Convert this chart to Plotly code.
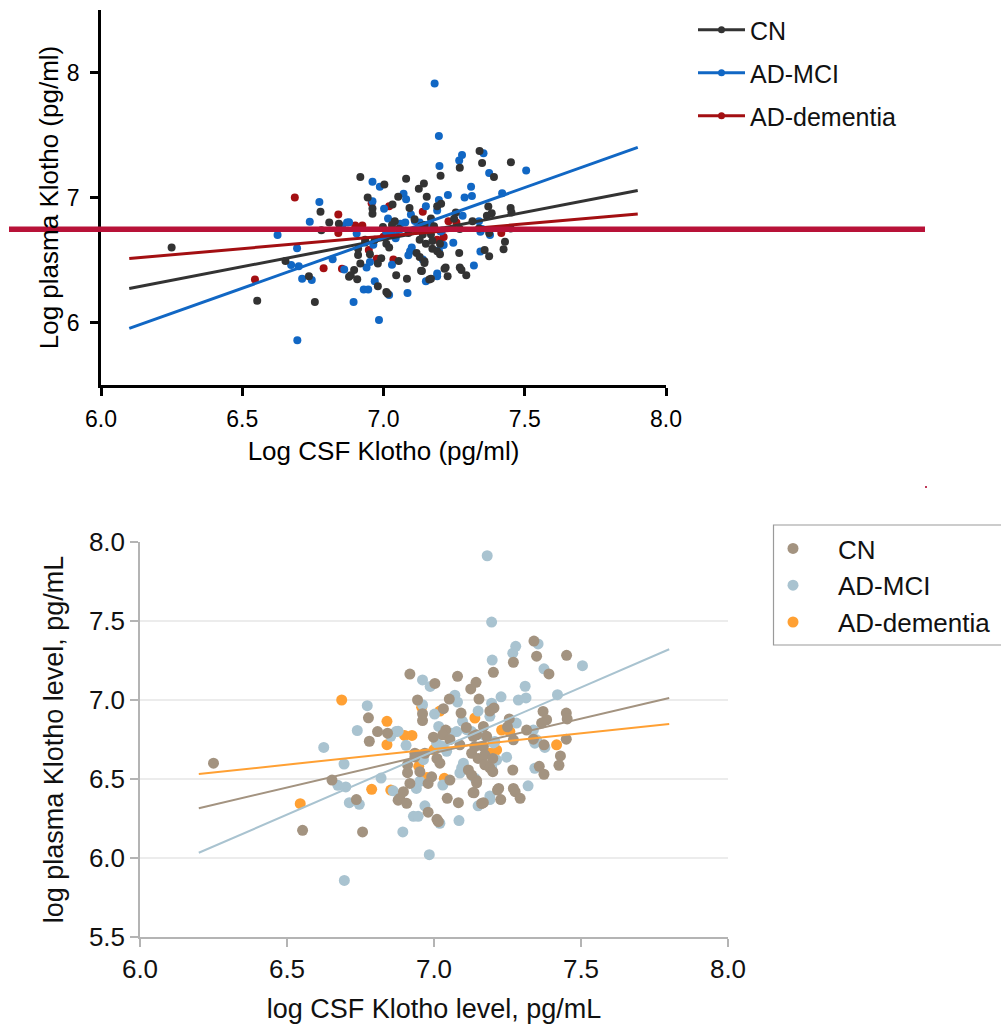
import plotly.graph_objects as go

# ---------------- data ----------------
groups = ["CN", "AD-MCI", "AD-dementia"]

cn_x = [6.25, 6.553, 6.653, 6.736, 6.757, 6.777, 6.78, 6.808, 6.842, 6.878,
        6.918, 7.003, 7.08, 7.125, 7.143, 7.153, 7.19, 7.204, 6.944, 6.961,
        6.961, 7.032, 7.052, 7.092, 6.935, 6.935, 6.969, 6.91, 6.91, 6.952,
        6.992, 6.918, 6.98, 6.896, 6.884, 6.907, 6.98, 7.01, 7.015, 7.045,
        7.083, 7.133, 6.998, 7.04, 7.03, 7.054, 7.11, 7.088, 7.133, 7.139,
        7.128, 7.01, 7.02, 7.054, 7.117, 7.15, 7.168, 7.145, 7.179, 7.168,
        7.173, 7.2, 7.173, 7.19, 7.145, 7.128, 7.2, 7.22, 7.27, 7.145,
        7.136, 7.162, 7.168, 7.216, 7.227, 7.276, 7.293, 7.34, 7.349, 7.27,
        7.202, 7.391, 7.256, 7.25, 7.371, 7.383, 7.366, 7.45, 7.453, 7.315,
        7.338, 7.27, 7.374, 7.45, 7.43, 7.425, 7.358, 7.374, 7.268, 7.451]
cn_y = [6.60, 6.175, 6.493, 6.37, 6.165, 6.887, 6.739, 6.80, 6.79, 6.366,
        7.164, 7.105, 7.15, 7.07, 7.112, 7.006, 6.93, 6.95, 7.0, 6.913,
        6.87, 6.945, 7.006, 6.917, 6.663, 6.64, 6.663, 6.59, 6.54, 6.546,
        6.514, 6.472, 6.472, 6.42, 6.378, 6.346, 6.29, 6.245, 6.23, 6.378,
        6.35, 6.414, 6.765, 6.81, 6.78, 6.75, 6.826, 6.716, 6.77, 6.705,
        6.663, 6.63, 6.60, 6.493, 6.557, 6.63, 6.833, 6.78, 6.77, 6.705,
        6.653, 6.63, 6.59, 6.57, 6.49, 6.525, 6.546, 6.44, 6.44, 6.476,
        6.413, 6.345, 6.35, 6.43, 6.37, 6.42, 6.378, 7.373, 7.277, 7.239,
        7.175, 7.165, 6.88, 6.83, 6.928, 6.875, 6.854, 6.917, 6.88, 6.81,
        6.752, 6.748, 6.716, 6.752, 6.646, 6.587, 6.58, 6.53, 6.557, 7.283]

mci_x = [6.625, 6.694, 6.773, 6.739, 6.673, 6.70, 6.712, 6.746, 6.695, 6.82,
         6.861, 6.871, 6.853, 6.878, 6.905, 6.894, 6.93, 6.946, 6.969, 6.984,
         7.02, 7.085, 6.94, 7.03, 6.961, 6.987, 6.961, 7.002, 7.016, 7.071,
         7.08, 7.097, 7.077, 7.009, 7.028, 7.043, 6.964, 7.094, 7.10, 7.088,
         6.952, 7.06, 7.111, 7.128, 7.168, 7.15, 7.19, 7.196, 7.228, 7.181,
         7.196, 7.198, 7.268, 7.278, 7.354, 7.374, 7.505, 7.31, 7.287, 7.313,
         7.42, 7.28, 7.338, 7.349, 7.343, 7.377, 7.207, 7.247, 7.196, 7.343,
         7.139, 7.32, 7.19, 7.19, 7.15, 7.202, 7.213]
mci_y = [6.70, 6.595, 6.964, 6.807, 6.46, 6.45, 6.35, 6.34, 5.858, 6.506,
         6.425, 6.80, 6.77, 6.803, 6.713, 6.165, 6.264, 6.264, 6.33, 6.021,
         6.22, 6.237, 6.44, 6.462, 7.127, 7.086, 6.97, 6.911, 6.833, 7.03,
         6.987, 6.865, 6.80, 6.728, 6.707, 6.675, 6.622, 6.57, 6.60, 6.538,
         6.485, 6.79, 6.812, 6.80, 6.781, 6.93, 6.897, 6.98, 7.02, 7.913,
         7.493, 7.253, 7.296, 7.34, 7.355, 7.197, 7.217, 7.087, 7.0, 7.013,
         7.034, 6.854, 6.81, 6.748, 6.727, 6.70, 6.737, 6.638, 6.578, 6.568,
         6.504, 6.457, 6.392, 6.37, 6.33, 6.728, 6.62]

dem_x = [6.545, 6.686, 6.788, 6.84, 6.84, 6.853, 6.90, 6.925, 6.948, 6.958,
         6.976, 7.0, 7.02, 7.035, 7.139, 7.23, 7.258, 7.213, 7.19, 7.205, 7.417]
dem_y = [6.344, 7.0, 6.435, 6.865, 6.717, 6.43, 6.776, 6.776, 6.58, 6.954,
         6.51, 6.686, 6.93, 6.504, 6.886, 6.81, 6.80, 6.684, 6.663, 6.633, 6.716]

# regression lines (slope, intercept) per group, and their x extents
fit_slopes = [0.436, 0.805, 0.198]
fit_intercepts = [3.612, 1.042, 5.304]
fit_x_top = [6.1, 7.9]
fit_x_bottom = [6.2, 7.8]

# horizontal marker line across the upper chart
red_line_y = 6.746

# tick values
x_ticks = [6.0, 6.5, 7.0, 7.5, 8.0]
y_ticks_top = [6, 7, 8]
y_ticks_bottom = [5.5, 6.0, 6.5, 7.0, 7.5, 8.0]
grid_bottom = [6.0, 6.5, 7.0, 7.5]

# ---------------- styling ----------------
W, H = 1001, 1029
FONT = "Liberation Sans, Arial, sans-serif"
top_colors = ["#333333", "#1167C4", "#A30F12"]
bot_colors = ["#A39380", "#A9C3D0", "#FFA033"]
xs = [cn_x, mci_x, dem_x]
ys = [cn_y, mci_y, dem_y]


def fx(p):
    return p / W


def fy(p):
    return 1 - p / H


fig = go.Figure()

# ---- upper chart ----
for i in [2, 1, 0]:
    fig.add_trace(go.Scatter(x=xs[i], y=ys[i], mode="markers", xaxis="x", yaxis="y",
                             marker=dict(color=top_colors[i], size=8, line=dict(width=0)),
                             showlegend=False, name=groups[i]))
for i in [0, 1, 2]:
    fig.add_trace(go.Scatter(x=fit_x_top,
                             y=[fit_intercepts[i] + fit_slopes[i] * v for v in fit_x_top],
                             mode="lines", xaxis="x", yaxis="y",
                             line=dict(color=top_colors[i], width=3),
                             showlegend=False, hoverinfo="skip"))
for i in [0, 1, 2]:
    fig.add_trace(go.Scatter(x=[None], y=[None], mode="lines+markers", xaxis="x", yaxis="y",
                             line=dict(color=top_colors[i], width=3),
                             marker=dict(color=top_colors[i], size=7),
                             name=groups[i], legend="legend", legendgroup="t%d" % i,
                             legendrank=i + 1))

# ---- lower chart ----
for i in [2, 1, 0]:
    fig.add_trace(go.Scatter(x=xs[i], y=ys[i], mode="markers", xaxis="x2", yaxis="y2",
                             marker=dict(color=bot_colors[i], size=11, line=dict(width=0)),
                             name=groups[i], legend="legend2", legendrank=i + 1))
for i in [0, 1, 2]:
    fig.add_trace(go.Scatter(x=fit_x_bottom,
                             y=[fit_intercepts[i] + fit_slopes[i] * v for v in fit_x_bottom],
                             mode="lines", xaxis="x2", yaxis="y2",
                             line=dict(color=bot_colors[i], width=2),
                             showlegend=False, hoverinfo="skip"))

shapes = [dict(type="line", xref="paper", yref="y", x0=fx(9), x1=fx(925),
               y0=red_line_y, y1=red_line_y, line=dict(color="#B81238", width=5.5),
               layer="above"),
          dict(type="rect", xref="paper", yref="paper", x0=fx(925), x1=fx(927),
               y0=fy(488), y1=fy(486), line=dict(width=0), fillcolor="#C0395A"),
          dict(type="rect", xref="paper", yref="paper", x0=fx(773.5), x1=fx(1012),
               y0=fy(645), y1=fy(525), line=dict(color="#9A9A9A", width=1.2),
               fillcolor="rgba(0,0,0,0)", layer="below")]
for g in grid_bottom:
    shapes.append(dict(type="line", xref="x2 domain", yref="y2", x0=0, x1=1, y0=g, y1=g,
                       line=dict(color="#E6E6E6", width=1.5), layer="below"))

fig.update_layout(
    width=W, height=H,
    margin=dict(l=0, r=0, t=0, b=0, autoexpand=False),
    paper_bgcolor="white", plot_bgcolor="white",
    font=dict(family=FONT, color="#000000"),
    shapes=shapes,
    xaxis=dict(domain=[fx(101), fx(666)], anchor="y", range=[6, 8],
               tickvals=x_ticks, tickformat=".1f", showline=True, linecolor="#000000",
               linewidth=2.5, ticks="outside", ticklen=8, tickwidth=2.5, tickcolor="#000000",
               showgrid=False, zeroline=False, tickfont=dict(size=23, color="#000"),
               ticklabelstandoff=4,
               title=dict(text="Log CSF Klotho (pg/ml)", font=dict(size=26, color="#000"),
                          standoff=11)),
    yaxis=dict(domain=[fy(385), fy(10)], anchor="x", range=[5.5, 8.5],
               tickvals=y_ticks_top, tickformat="d", showline=True, linecolor="#000000",
               linewidth=2.5, ticks="outside", ticklen=8, tickwidth=2.5, tickcolor="#000000",
               showgrid=False, zeroline=False, tickfont=dict(size=23, color="#000"),
               ticklabelstandoff=6,
               title=dict(text="Log plasma Klotho (pg/ml)", font=dict(size=26, color="#000"),
                          standoff=1)),
    xaxis2=dict(domain=[fx(140), fx(728)], anchor="y2", range=[6, 8],
                tickvals=x_ticks, tickformat=".1f", showline=True, linecolor="#B4B4B4",
                linewidth=1.5, ticks="outside", ticklen=8, tickwidth=1.5, tickcolor="#B4B4B4",
                showgrid=False, zeroline=False, tickfont=dict(size=26, color="#111"),
                title=dict(text="log CSF Klotho level, pg/mL", font=dict(size=27, color="#111"),
                           standoff=16)),
    yaxis2=dict(domain=[fy(937), fy(542)], anchor="x2", range=[5.5, 8.0],
                tickvals=y_ticks_bottom, tickformat=".1f", showline=True, linecolor="#B4B4B4",
                linewidth=1.5, ticks="outside", ticklen=8, tickwidth=1.5, tickcolor="#B4B4B4",
                showgrid=False, zeroline=False, tickfont=dict(size=26, color="#111"),
                title=dict(text="log plasma Klotho level, pg/mL", font=dict(size=27, color="#111"),
                           standoff=17)),
    legend=dict(x=fx(693), y=fy(7), xanchor="left", yanchor="top",
                font=dict(size=25, color="#111"), bgcolor="rgba(0,0,0,0)",
                traceorder="grouped", tracegroupgap=7.5, itemwidth=47, borderwidth=0),
    legend2=dict(x=fx(748), y=fy(525), xanchor="left", yanchor="top",
                 font=dict(size=26, color="#111"), bgcolor="rgba(0,0,0,0)",
                 borderwidth=0, traceorder="normal", itemwidth=80),
)

fig.write_html("out.html")
